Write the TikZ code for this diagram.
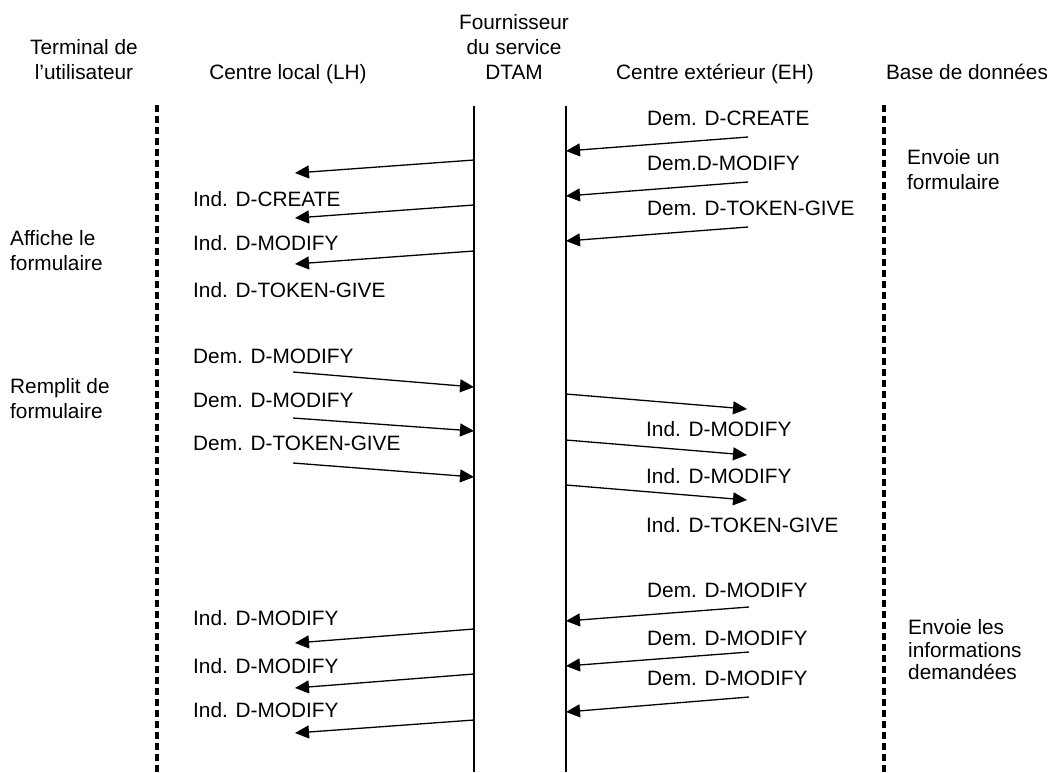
\documentclass[tikz,border=0pt]{standalone}
\usepackage{fontspec}
\setmainfont{Liberation Sans}
\usetikzlibrary{arrows.meta}
\tikzset{
  lifeline/.style={line width=1.8pt, black},
  dashlife/.style={line width=3.4pt, black, dash pattern=on 7pt off 4pt},
  msg/.style={line width=1.3pt, -{Triangle[length=14pt,width=13pt]}},
  lbl/.style={anchor=base west, inner sep=0pt, font=\fontsize{20.8pt}{25pt}\selectfont},
  hdr/.style={anchor=base, inner sep=0pt, align=center, font=\fontsize{20.8pt}{25pt}\selectfont},
  side/.style={anchor=base west, inner sep=0pt, align=left, font=\fontsize{20.8pt}{25pt}\selectfont},
}
\begin{document}
\begin{tikzpicture}[x=1pt, y=-1pt]
\useasboundingbox (0,0) rectangle (1049,772);
% headers (base = baseline of last line)
\node[hdr] (hU) at (84,79.5) {Terminal de\\l’utilisateur};
\node[hdr] (hLH) at (288,79.5) {Centre local (LH)};
\node[hdr] (hP) at (514,79.5) {Fournisseur\\du service\\DTAM};
\node[hdr] (hEH) at (715,79.5) {Centre extérieur (EH)};
\node[hdr] (hDB) at (967,79.5) {Base de données};
% lifelines
\coordinate (Ut) at (157,105); \coordinate (Ub) at (157,772);
\coordinate (Lt) at (474,106); \coordinate (Lb) at (474,772);
\coordinate (Et) at (566,106); \coordinate (Eb) at (566,772);
\coordinate (Dt) at (884,105); \coordinate (Db) at (884,772);
\draw[dashlife] (Ut) -- (Ub);
\draw[lifeline] (Lt) -- (Lb);
\draw[lifeline] (Et) -- (Eb);
\draw[dashlife] (Dt) -- (Db);
% messages
\foreach \n/\xa/\ya/\xb/\yb in {
  1/474/160/295/173, 2/474/205/295/218, 3/474/251/295/264,
  4/748/137/566/151, 5/748/182/566/196, 6/748/227/566/241,
  7/293/372/474/387, 8/293/418/474/431, 9/293/463/474/477,
  10/566/394/747/409, 11/566/440/747/455, 12/566/485/747/500,
  13/474/629/295/643, 14/474/674/295/688, 15/474/720/295/733,
  16/749/607/566/621, 17/749/652/566/666, 18/749/697/566/712}{
  \coordinate (m\n s) at (\xa,\ya);
  \coordinate (m\n e) at (\xb,\yb);
  \draw[msg] (m\n s) -- (m\n e);
}
% labels left column
\node[lbl] (t1) at (193,206.5) {Ind. D-CREATE};
\node[lbl] (t2) at (193,250.5) {Ind. D-MODIFY};
\node[lbl] (t3) at (193,297.5) {Ind. D-TOKEN-GIVE};
\node[lbl] (t7) at (193,363.5) {Dem. D-MODIFY};
\node[lbl] (t8) at (193,407.5) {Dem. D-MODIFY};
\node[lbl] (t9) at (193,450.5) {Dem. D-TOKEN-GIVE};
\node[lbl] (t13) at (193,625.5) {Ind. D-MODIFY};
\node[lbl] (t14) at (193,673) {Ind. D-MODIFY};
\node[lbl] (t15) at (193,717) {Ind. D-MODIFY};
% labels right column
\node[lbl] (t4) at (647,125.5) {Dem. D-CREATE};
\node[lbl] (t5) at (647,170.5) {Dem.D-MODIFY};
\node[lbl] (t6) at (647,215.5) {Dem. D-TOKEN-GIVE};
\node[lbl] (t10) at (646,436.5) {Ind. D-MODIFY};
\node[lbl] (t11) at (646,483.5) {Ind. D-MODIFY};
\node[lbl] (t12) at (646,532.5) {Ind. D-TOKEN-GIVE};
\node[lbl] (t16) at (647,597.5) {Dem. D-MODIFY};
\node[lbl] (t17) at (647,645.5) {Dem. D-MODIFY};
\node[lbl] (t18) at (647,685.5) {Dem. D-MODIFY};
% side notes (base = baseline of last line)
\node[side] (s1) at (907,189.5) {Envoie un\\formulaire};
\node[side, font=\fontsize{20.8pt}{22.5pt}\selectfont] (s2) at (908,679.5) {Envoie les\\informations\\demandées};
\node[side] (s3) at (10,270.5) {Affiche le\\formulaire};
\node[side] (s4) at (10,418.5) {Remplit de\\formulaire};
\end{tikzpicture}
\end{document}
